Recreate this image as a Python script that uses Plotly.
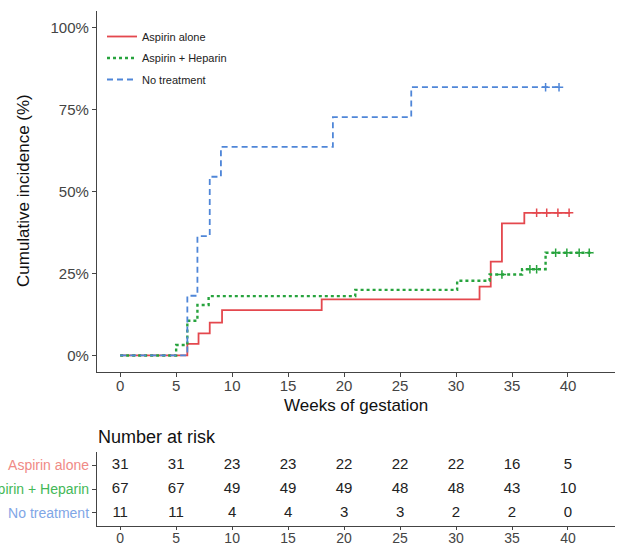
import plotly.graph_objects as go

W, H = 622, 547

# ---- data ----
groups = ["Aspirin alone", "Aspirin + Heparin", "No treatment"]

alone_t = [0, 6.0, 7.0, 8.0, 9.1, 18.0, 32.1, 33.1, 34.1, 36.1, 40.2]
alone_ci = [0, 3.5, 6.7, 10.0, 13.8, 17.1, 21.0, 28.6, 40.3, 43.5, 43.5]
alone_cens = [37.2, 38.1, 39.1, 40.1]

hep_t = [0, 5.0, 6.0, 6.9, 7.9, 21.0, 30.1, 33.0, 35.9, 38.0, 42.3]
hep_ci = [0, 3.2, 10.6, 15.4, 18.1, 20.0, 22.8, 24.7, 26.3, 31.3, 31.3]
hep_cens = [34.1, 36.6, 37.2, 38.9, 39.9, 41.0, 41.9]

none_t = [0, 6.0, 6.9, 8.0, 9.0, 19.0, 26.0, 39.3]
none_ci = [0, 18.2, 36.4, 54.5, 63.6, 72.7, 81.8, 81.8]
none_cens = [38.0, 39.2]

risk_times = [0, 5, 10, 15, 20, 25, 30, 35, 40]
risk_alone = [31, 31, 23, 23, 22, 22, 22, 16, 5]
risk_hep = [67, 67, 49, 49, 49, 48, 48, 43, 10]
risk_none = [11, 11, 4, 4, 3, 3, 2, 2, 0]

y_ticks = [0, 25, 50, 75, 100]
x_ticks = [0, 5, 10, 15, 20, 25, 30, 35, 40]

# ---- styles ----
line_cols = ["#E4484E", "#27A33D", "#4F86D8"]
label_cols = ["#F08A86", "#43B857", "#7FA6E6"]
dashes = ["solid", "dot", "6px,4px"]
FONT = "Liberation Sans, Arial, sans-serif"

def px_x(p):
    return p / W

def px_y(p):
    return 1 - p / H

fig = go.Figure()

curves = [(alone_t, alone_ci, alone_cens), (hep_t, hep_ci, hep_cens), (none_t, none_ci, none_cens)]
for i, (t, ci, cens) in enumerate(curves):
    fig.add_trace(go.Scatter(
        x=t, y=ci, mode="lines", name=groups[i], legendgroup=groups[i],
        line=dict(color=line_cols[i], width=1.8 if i != 1 else 2.4, dash=dashes[i], shape="hv"),
        xaxis="x", yaxis="y"))
for i, (t, ci, cens) in enumerate(curves):
    # censor marks on the curve level at each censor time
    cy = []
    for c in cens:
        lvl = 0
        for tt, vv in zip(t, ci):
            if tt <= c:
                lvl = vv
        cy.append(lvl)
    fig.add_trace(go.Scatter(
        x=cens, y=cy, mode="markers", showlegend=False, hoverinfo="skip",
        legendgroup=groups[i],
        marker=dict(symbol="cross-thin-open", size=6, color=line_cols[i],
                    line=dict(color=line_cols[i], width=1.5)),
        xaxis="x", yaxis="y"))

# risk table as text trace
rows = [risk_alone, risk_hep, risk_none]
row_y = [3, 2, 1]
for r, yy in zip(rows, row_y):
    fig.add_trace(go.Scatter(
        x=risk_times, y=[yy] * len(risk_times), mode="text",
        text=[str(v) for v in r], textfont=dict(size=15, color="#222", family=FONT),
        showlegend=False, hoverinfo="skip", xaxis="x2", yaxis="y2"))

xr = [-2.07, 44.2]
axis_common = dict(showline=True, linecolor="#444", linewidth=1.3, ticks="outside",
                   ticklen=4, tickcolor="#444", tickwidth=1.1, showgrid=False, zeroline=False,
                   automargin=False,
                   tickfont=dict(size=15, color="#444", family=FONT))

fig.update_layout(
    template=None,
    width=W, height=H, margin=dict(l=0, r=0, t=0, b=0, pad=0),
    paper_bgcolor="white", plot_bgcolor="white",
    font=dict(family=FONT),
    xaxis=dict(domain=[px_x(97), px_x(615)], range=xr, tickvals=x_ticks, anchor="y",
               ticklabelstandoff=-4, **axis_common),
    yaxis=dict(domain=[px_y(372), px_y(10.8)], range=[-5.05, 105.1], tickvals=y_ticks,
               ticktext=[f"{v}%" for v in y_ticks], anchor="x", **axis_common),
    xaxis2=dict(domain=[px_x(97), px_x(615)], range=xr, tickvals=x_ticks, anchor="y2",
                ticklabelstandoff=-4,
                **{**axis_common, "ticklen": 3, "tickfont": dict(size=14, color="#444", family=FONT)}),
    yaxis2=dict(domain=[px_y(526), px_y(452)], range=[0.45, 3.55], tickvals=row_y,
                ticktext=[f'<span style="color:{label_cols[i]}">{g}</span>' for i, g in enumerate(groups)],
                anchor="x2", **{**axis_common, "tickfont": dict(size=14, family=FONT)}),
    legend=dict(x=px_x(102), y=px_y(22), xanchor="left", yanchor="top",
                bgcolor="rgba(0,0,0,0)", font=dict(size=11, color="#222", family=FONT),
                tracegroupgap=2.5),
    annotations=[
        dict(text="Cumulative incidence (%)", x=px_x(23), y=px_y(191), xref="paper", yref="paper",
             xanchor="center", yanchor="middle",
             textangle=-90, showarrow=False, font=dict(size=17, color="#111", family=FONT)),
        dict(text="Weeks of gestation", x=px_x(356), y=px_y(405), xref="paper", yref="paper",
             xanchor="center", yanchor="middle",
             showarrow=False, font=dict(size=17, color="#111", family=FONT)),
        dict(text="Number at risk", x=px_x(96), y=px_y(437), xref="paper", yref="paper",
             xanchor="left", yanchor="middle", showarrow=False,
             font=dict(size=18, color="#111", family=FONT)),
    ],
)

fig.write_html("out.html", config={"displayModeBar": False},
               post_script="document.body.style.margin='0';")
